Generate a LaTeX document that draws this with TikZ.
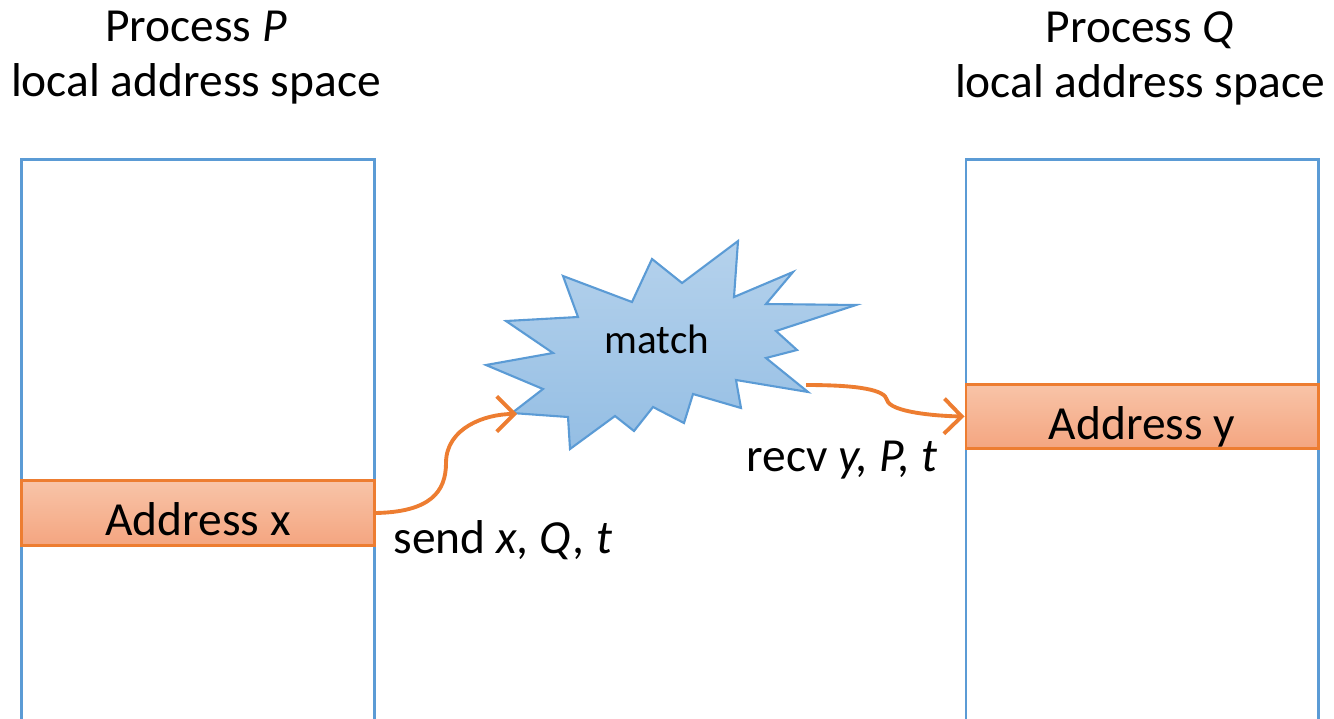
\documentclass[tikz,border=0pt]{standalone}
\usepackage{fontspec}
\setmainfont{Carlito}
\usetikzlibrary{arrows.meta}

\definecolor{memblue}{HTML}{5B9BD5}
\definecolor{addrorange}{HTML}{ED7D31}
\definecolor{addrtop}{HTML}{F8C4A8}
\definecolor{addrbottom}{HTML}{F4A580}

\tikzstyle{title} = [align=center, inner sep=0pt, font=\fontsize{13.5}{15.6}\selectfont]
\tikzstyle{space} = [rectangle, draw=memblue, line width=0.8pt, minimum width=3.52cm, minimum height=5.9cm]
\tikzstyle{address} = [rectangle, draw=addrorange, line width=0.8pt, top color=addrtop, bottom color=addrbottom, minimum width=3.52cm, minimum height=0.645cm, text height=13pt, text depth=0pt, inner sep=0pt, font=\fontsize{13.5}{15.6}\selectfont]
\tikzstyle{label} = [inner sep=0pt, font=\fontsize{13.5}{15.6}\selectfont]
\tikzstyle{arrow} = [addrorange, line width=1.1pt, -{Straight Barb[length=5pt, width=10pt]}]

\begin{document}
\begin{tikzpicture}[x=0.01cm, y=-0.01cm]
\useasboundingbox (0,0) rectangle (1334,718);

% Titles
\node (titleP) [title] at (196,58) {Process \textit{P}\\local address space};
\node (titleQ) [title] at (1140,58) {Process \textit{Q}\\local address space};

% Address spaces
\node (spaceP) [space] at (198,455) {};
\node (spaceQ) [space] at (1142,455) {};

\node (addrx) [address] at (198,513) {Address x};
\node (addry) [address] at (1142,416.5) {Address y};

% Matching burst
\filldraw [draw=memblue, line width=0.6pt, top color=memblue!45!white, bottom color=memblue!65!white]
  (738,241) -- (734,297) -- (793,272) -- (766,304) -- (856,305) -- (776,331)
  -- (797,350) -- (766,358) -- (808,392) -- (736,380) -- (741,408) -- (693,394)
  -- (684,423) -- (653,407) -- (634,431) -- (615,416) -- (570,449) -- (568,417)
  -- (512,413) -- (543,389) -- (486,365) -- (553,353) -- (506,321) -- (578,317)
  -- (563,276) -- (632,302) -- (652,259) -- (682,283) -- cycle;
\node (match) [inner sep=0pt, font=\fontsize{11.7}{14}\selectfont] at (657,339) {match};
\coordinate (matchin) at (517,414);
\coordinate (matchout) at (806,385);

% Messages
\draw [arrow] (addrx.east) .. controls (430,512) and (446,492) .. (446,463)
  .. controls (446,428) and (485,414) .. (matchin);
\draw [arrow] (matchout) .. controls (860,385) and (885,390) .. (887,400)
  .. controls (890,412) and (935,416) .. (addry.west);

\node (send) [label] at (503,540) {send \textit{x, Q, t}};
\node (recv) [label] at (842,460) {recv \textit{y, P, t}};

\end{tikzpicture}
\end{document}
